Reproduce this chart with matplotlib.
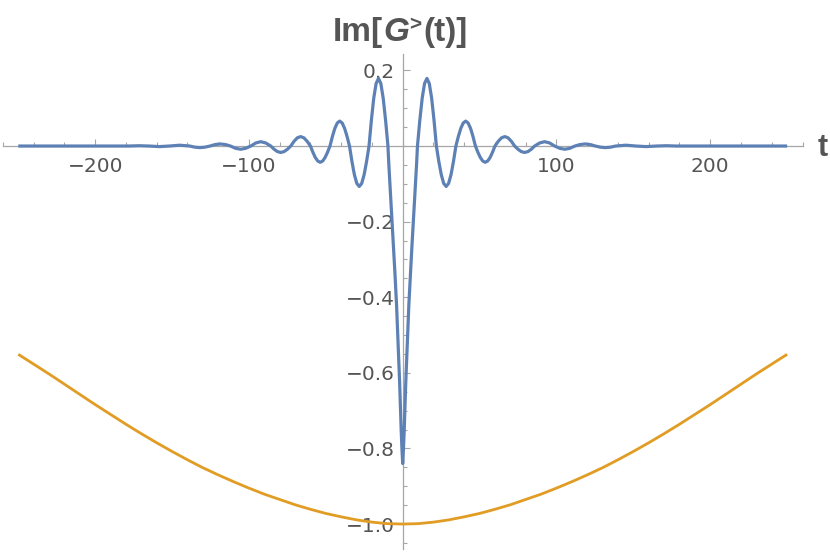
import matplotlib
matplotlib.use("Agg")
import matplotlib.pyplot as plt
import numpy as np
from matplotlib.ticker import FixedLocator, MultipleLocator, FuncFormatter

# values, t >= 0 half (both curves are even in t)
t_blue = [0, 0.5, 1, 1.5, 2, 3, 4, 5, 6, 7, 8, 9, 9.6,
          11.14, 12.68, 14.21, 15.75, 17.29, 18.83, 20.36, 21.9,
          23.49, 25.08, 26.66, 28.25, 29.84, 31.43, 33.01, 34.6,
          36.19, 37.78, 39.36, 40.95, 42.54, 44.13, 45.71, 47.3,
          48.89, 50.48, 52.06, 53.65, 55.24, 56.83, 58.41, 60.0,
          62.13, 64.27, 66.4, 68.53, 70.67, 72.8,
          74.97, 77.13, 79.3, 81.47, 83.63, 85.8,
          89.05, 92.3, 95.55, 98.8,
          102.1, 105.4, 108.7, 112.0,
          115.3, 118.65, 122.0, 125.3,
          128.6, 131.9, 135.2, 138.5,
          145.1, 151.7, 158.3, 165.0, 171.5, 178.0, 200.0, 250.0]
g_blue = [-0.840, -0.800, -0.750, -0.690, -0.625, -0.520, -0.420, -0.340, -0.265, -0.195, -0.125, -0.050, 0.0,
          0.0686, 0.1266, 0.1654, 0.179, 0.1654, 0.1266, 0.0686, 0.0,
          -0.041, -0.0756, -0.0989, -0.107, -0.0989, -0.0756, -0.041, 0.0,
          0.0253, 0.0467, 0.061, 0.066, 0.061, 0.0467, 0.0253, 0.0,
          -0.0165, -0.0304, -0.0397, -0.043, -0.0397, -0.0304, -0.0165, 0.0,
          0.0125, 0.0217, 0.025, 0.0217, 0.0125, 0.0,
          -0.0085, -0.0147, -0.017, -0.0147, -0.0085, 0.0,
          0.0081, 0.0115, 0.0081, 0.0,
          -0.006, -0.0085, -0.006, 0.0,
          0.0039, 0.0055, 0.0039, 0.0,
          -0.003, -0.0042, -0.003, 0.0,
          0.0022, 0.0, -0.0015, 0.0, 0.0008, 0.0, 0.0, 0.0]

t_orange = [0, 10, 20, 30, 40, 50, 60, 70, 80, 90, 100, 110, 120, 130,
            140, 150, 160, 170, 180, 190, 200, 210, 220, 230, 240, 250]
g_orange = [-1.000, -0.999, -0.995, -0.989, -0.981, -0.972, -0.961, -0.949,
            -0.935, -0.921, -0.905, -0.888, -0.870, -0.851, -0.830, -0.808,
            -0.785, -0.761, -0.736, -0.710, -0.684, -0.657, -0.630, -0.603,
            -0.577, -0.551]

xticks = [-200, -100, 100, 200]
yticks = [-1.0, -0.8, -0.6, -0.4, -0.2, 0.2]


def mirror(t, g):
    t = np.asarray(t, float)
    g = np.asarray(g, float)
    return np.concatenate([-t[:0:-1], t]), np.concatenate([g[:0:-1], g])


tb, gb = mirror(t_blue, g_blue)
to, go = mirror(t_orange, g_orange)

W, H = 830, 553
fig = plt.figure(figsize=(W / 100, H / 100), dpi=100)
ax = fig.add_axes([2.9 / W, 1 - 548.6 / H, 799.6 / W, (548.6 - 53.8) / H])

ax.plot(to, go, color="#E19C24", lw=2.0, zorder=3, solid_capstyle="butt")
ax.plot(tb, gb, color="#5E81B5", lw=2.3, zorder=4, solid_capstyle="butt")

ax.set_xlim(-260, 260)
ax.set_ylim(-1.065, 0.244)

# Mathematica-style axes through the origin
axcol = "#a6a6a6"
for s in ["top", "right"]:
    ax.spines[s].set_visible(False)
ax.spines["bottom"].set_position(("data", 0))
ax.spines["left"].set_position(("data", 0))
for s in ["bottom", "left"]:
    ax.spines[s].set_color(axcol)
    ax.spines[s].set_linewidth(0.9)

ax.xaxis.set_major_locator(FixedLocator(xticks))
ax.xaxis.set_minor_locator(MultipleLocator(20))
ax.yaxis.set_major_locator(FixedLocator(yticks))
ax.yaxis.set_minor_locator(MultipleLocator(0.05))
ax.xaxis.set_major_formatter(FuncFormatter(lambda v, p: f"{v:.0f}".replace("-", "\u2212")))
ax.yaxis.set_major_formatter(FuncFormatter(lambda v, p: f"{v:.1f}".replace("-", "\u2212")))

ax.tick_params(which="both", direction="in", color=axcol, labelcolor="#555555",
               labelsize=14.5, width=0.8)
ax.tick_params(axis="x", which="major", length=5, pad=8)
ax.tick_params(axis="x", which="minor", length=3)
ax.tick_params(axis="y", which="major", length=5, pad=5.5)
ax.tick_params(axis="y", which="minor", length=3)

# title "Im[G>(t)]" built from pieces so the superscript sits tight to the G
tcol = "#555555"
fs = 24
base_y = 1 - 41 / H
pieces = [("Im[", "normal", fs, 0),
          ("G", "italic", fs, 0),
          (">", "normal", fs * 0.62, 11),
          ("(t)]", "normal", fs, 0)]
fig.canvas.draw()
renderer = fig.canvas.get_renderer()
texts = []
widths = []
for s, style, size, rise in pieces:
    tx = fig.text(0, base_y + rise / H, s, fontsize=size, fontweight="bold",
                  style=style, family="Liberation Sans", color=tcol,
                  ha="left", va="baseline")
    texts.append(tx)
    widths.append(tx.get_window_extent(renderer).width)
gaps = [0, 1, 0, 2]
total = sum(widths) + sum(gaps)
x = 400 - total / 2
for tx, w, gp in zip(texts, widths, gaps):
    x += gp
    tx.set_x(x / W)
    x += w

fig.text(823 / W, 1 - 147.5 / H, "t", ha="center", va="center",
         fontsize=22, fontweight="bold", family="Liberation Sans", color=tcol)

fig.savefig("out.png", dpi=100)
